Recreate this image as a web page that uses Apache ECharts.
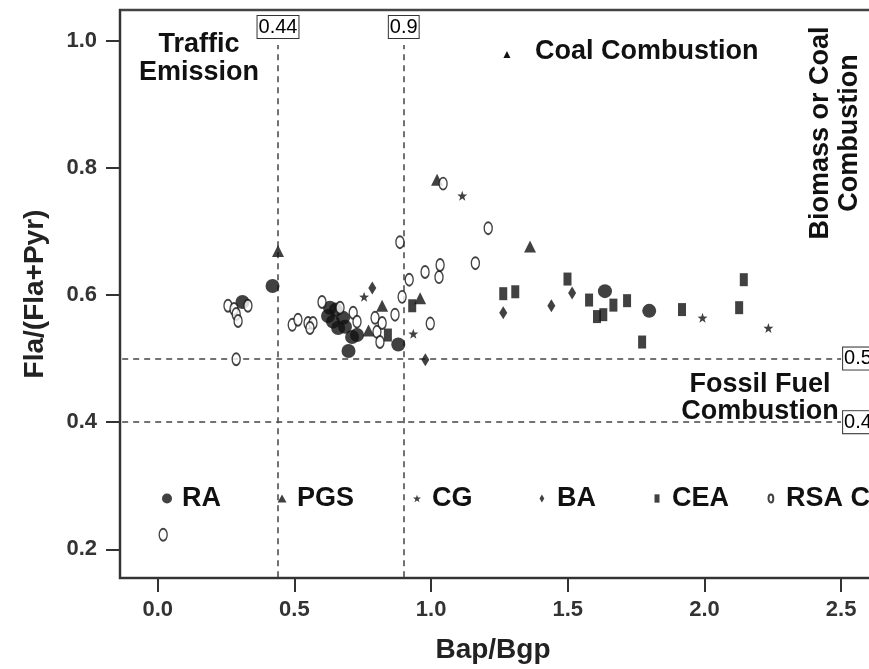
<!DOCTYPE html>
<html>
<head>
<meta charset="utf-8">
<script src="https://cdn.jsdelivr.net/npm/echarts@6/dist/echarts.min.js"></script>
<style>
html, body { margin: 0; padding: 0; background: #fff; }
#chart { width: 869px; height: 669px; }
</style>
</head>
<body>
<div id="chart"></div>
<script>
// data: [Bap/Bgp, Fla/(Fla+Pyr)]
const raPoints = [[0.31, 0.589], [0.42, 0.614], [0.623, 0.567], [0.63, 0.58], [0.641, 0.558], [0.652, 0.577],
	[0.66, 0.548], [0.678, 0.564], [0.685, 0.55], [0.698, 0.512], [0.711, 0.534], [0.729, 0.537],
	[0.88, 0.522], [1.636, 0.606], [1.798, 0.575]];
const pgsPoints = [[0.44, 0.669], [0.771, 0.544], [0.821, 0.583], [0.96, 0.595], [1.022, 0.781], [1.362, 0.676]];
const cgPoints = [[0.755, 0.597], [0.935, 0.539], [1.114, 0.756], [1.993, 0.564], [2.234, 0.548]];
const baPoints = [[0.785, 0.611], [0.979, 0.498], [1.264, 0.572], [1.44, 0.583], [1.516, 0.603]];
const ceaPoints = [[0.842, 0.537], [0.931, 0.583], [1.264, 0.602], [1.308, 0.605], [1.499, 0.625], [1.578, 0.592],
	[1.607, 0.566], [1.63, 0.569], [1.667, 0.584], [1.717, 0.591], [1.772, 0.526], [1.918, 0.577],
	[2.127, 0.58], [2.144, 0.624]];
const rsaPoints = [[0.02, 0.223], [0.257, 0.583], [0.279, 0.578], [0.287, 0.57], [0.294, 0.559], [0.287, 0.499],
	[0.33, 0.583], [0.492, 0.553], [0.513, 0.561], [0.55, 0.556], [0.568, 0.556], [0.557, 0.548],
	[0.601, 0.589], [0.667, 0.58], [0.715, 0.572], [0.729, 0.558], [0.795, 0.564], [0.802, 0.542],
	[0.813, 0.526], [0.821, 0.556], [0.868, 0.569], [0.886, 0.683], [0.894, 0.597], [0.92, 0.624],
	[0.978, 0.636], [0.997, 0.555], [1.029, 0.628], [1.033, 0.647], [1.044, 0.775], [1.162, 0.65],
	[1.209, 0.705]];

const seriesNames = ['RA', 'PGS', 'CG', 'BA', 'CEA', 'RSA C'];
const xTicks = [0, 0.5, 1.0, 1.5, 2.0, 2.5];
const yTicks = [0.2, 0.4, 0.6, 0.8, 1.0];
const vLines = [0.44, 0.9];
const hLines = [0.5, 0.4];

const FONT = '"Liberation Sans", Arial, sans-serif';
const INK = '#111';

const starPath = 'path://M5,0L6.18,3.38L9.76,3.45L6.9,5.62L7.94,9.05L5,7L2.06,9.05L3.1,5.62L0.24,3.45L3.82,3.38Z';
const diamondPath = 'path://M3,0L6,5L3,10L0,5Z';
const rectPath = 'path://M0,0H6V10H0Z';
const ovalPath = 'path://M0,5A3,5,0,1,0,6,5A3,5,0,1,0,0,5Z';

const chart = echarts.init(document.getElementById('chart'));

// legend marker x positions (centre of icon)
const legendX = [162, 277, 412, 537, 652, 765];
const legendIcon = [[10, 10], [9, 8], [8, 8], [5, 8], [5, 10], [5, 8]];

const legends = seriesNames.map((n, i) => ({
	data: [n],
	left: legendX[i] - legendIcon[i][0] / 2,
	top: 480,
	itemWidth: legendIcon[i][0],
	itemHeight: legendIcon[i][1],
	selectedMode: false,
	textStyle: { fontFamily: FONT, fontSize: 27, fontWeight: 'bold', color: INK, padding: [0, 0, 0, 10 - legendIcon[i][0] / 2] }
}));

const dashStyle = { color: '#444', width: 1.5, type: [6, 5] };
const boxLabel = {
	show: true,
	fontFamily: FONT,
	fontSize: 20,
	color: '#000',
	backgroundColor: '#fff',
	borderColor: '#333',
	borderWidth: 1,
	padding: [2, 1, 0, 1]
};

const markLines = [];
vLines.forEach(v => {
	markLines.push([
		{ coord: [v, 0.156] },
		{ coord: [v, 0.993], label: Object.assign({}, boxLabel, { position: 'end', distance: 7, formatter: String(v) }) }
	]);
});
hLines.forEach(v => {
	markLines.push([
		{ coord: [-0.13, v] },
		{ coord: [2.5, v], label: Object.assign({}, boxLabel, { position: 'end', distance: 2, formatter: v.toFixed(1) }) }
	]);
});

function scatter(name, data, symbol, size, style) {
	return {
		name: name,
		type: 'scatter',
		data: data,
		symbol: symbol,
		symbolSize: size,
		itemStyle: style,
		emphasis: { disabled: true },
		z: 3
	};
}

const series = [
	scatter('RA', raPoints, 'circle', 14, { color: INK }),
	scatter('PGS', pgsPoints, 'triangle', 12, { color: INK }),
	scatter('CG', cgPoints, starPath, 10, { color: INK }),
	scatter('BA', baPoints, diamondPath, [8, 13], { color: INK }),
	scatter('CEA', ceaPoints, rectPath, [8, 13], { color: INK }),
	scatter('RSA C', rsaPoints, ovalPath, [8, 12], { color: '#fff', borderColor: INK, borderWidth: 1.6 })
];
series[0].markLine = {
	silent: true,
	symbol: 'none',
	lineStyle: dashStyle,
	data: markLines,
	z: 1
};

const option = {
	animation: false,
	backgroundColor: '#fff',
	legend: legends,
	grid: {
		left: 120,
		top: 10,
		width: 790,
		height: 568,
		outerBoundsMode: 'none',
		show: true,
		borderColor: '#444',
		borderWidth: 2.5
	},
	xAxis: {
		type: 'value',
		min: -0.138,
		max: 2.752,
		splitLine: { show: false },
		axisLine: { show: true, onZero: false, lineStyle: { color: '#333', width: 2 } },
		axisTick: { show: true, length: 14, customValues: xTicks, lineStyle: { color: '#333', width: 2 } },
		axisLabel: {
			customValues: xTicks,
			margin: 21,
			fontFamily: FONT,
			fontSize: 22,
			fontWeight: 'bold',
			color: '#333',
			formatter: v => v.toFixed(1)
		}
	},
	yAxis: {
		type: 'value',
		min: 0.155,
		max: 1.048,
		name: 'Fla/(Fla+Pyr)',
		nameLocation: 'middle',
		nameGap: 71,
		nameTextStyle: { fontFamily: FONT, fontSize: 28, fontWeight: 'bold', color: '#222' },
		splitLine: { show: false },
		axisLine: { show: true, onZero: false, lineStyle: { color: '#333', width: 2 } },
		axisTick: { show: true, length: 14, customValues: yTicks, lineStyle: { color: '#333', width: 2 } },
		axisLabel: {
			customValues: yTicks,
			margin: 23,
			fontFamily: FONT,
			fontSize: 22,
			fontWeight: 'bold',
			color: '#333',
			formatter: v => v.toFixed(1)
		}
	},
	graphic: [
		{
			type: 'text',
			style: { x: 493, y: 650, text: 'Bap/Bgp', align: 'center', verticalAlign: 'middle', font: 'bold 28px ' + FONT, fill: '#222' }
		},
		{
			type: 'text',
			style: { x: 199, y: 59, text: 'Traffic\nEmission', align: 'center', verticalAlign: 'middle', lineHeight: 28, font: 'bold 27px ' + FONT, fill: INK }
		},
		{
			type: 'text',
			style: { x: 507, y: 55, text: '▲', align: 'center', verticalAlign: 'middle', font: '12px ' + FONT, fill: INK }
		},
		{
			type: 'text',
			style: { x: 535, y: 52, text: 'Coal Combustion', align: 'left', verticalAlign: 'middle', font: 'bold 27px ' + FONT, fill: INK }
		},
		{
			type: 'text',
			x: 835, y: 133, rotation: Math.PI / 2,
			style: { x: 0, y: 0, text: 'Biomass or Coal\nCombustion', align: 'center', verticalAlign: 'middle', lineHeight: 29, font: 'bold 27px ' + FONT, fill: INK }
		},
		{
			type: 'text',
			style: { x: 760, y: 398, text: 'Fossil Fuel\nCombustion', align: 'center', verticalAlign: 'middle', lineHeight: 27, font: 'bold 27px ' + FONT, fill: INK }
		}
	],
	series: series
};
chart.setOption(option);
</script>
</body>
</html>
